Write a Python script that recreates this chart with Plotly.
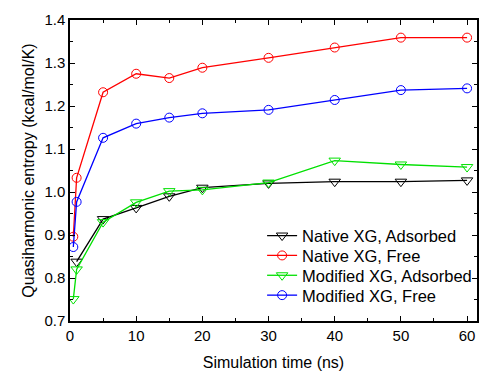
import plotly.graph_objects as go

time_native_ads = [1, 5, 10, 15, 20, 30, 40, 50, 60]
native_adsorbed = [0.838, 0.937, 0.963, 0.990, 1.010, 1.020, 1.024, 1.024, 1.027]

time_all = [0.5, 1, 5, 10, 15, 20, 30, 40, 50, 60]
native_free = [0.896, 1.033, 1.232, 1.275, 1.265, 1.289, 1.312, 1.336, 1.359, 1.359]
modified_adsorbed = [0.751, 0.820, 0.930, 0.976, 1.002, 1.005, 1.022, 1.073, 1.064, 1.058]
modified_free = [0.872, 0.977, 1.126, 1.159, 1.173, 1.183, 1.191, 1.214, 1.237, 1.241]

names = ["Native XG, Adsorbed", "Native XG, Free", "Modified XG, Adsorbed", "Modified XG, Free"]
colors = ["#000000", "#FF0000", "#00E000", "#0000FF"]
symbols = ["triangle-down-open", "circle-open", "triangle-down-open", "circle-open"]
xs = [time_native_ads, time_all, time_all, time_all]
ys = [native_adsorbed, native_free, modified_adsorbed, modified_free]
legend_ids = ["legend", "legend2", "legend3", "legend4"]

fig = go.Figure()
for x, y, n, c, s, lg in zip(xs, ys, names, colors, symbols, legend_ids):
    fig.add_trace(go.Scatter(
        x=x, y=y, name=n, mode="lines+markers", legend=lg,
        line=dict(color=c, width=1.3),
        marker=dict(symbol=s, size=10 if "triangle" in s else 9, color=c, line=dict(width=1, color=c)),
    ))

font = "Liberation Sans, Arial, sans-serif"
leg_common = dict(xanchor="left", yanchor="middle", bgcolor="rgba(0,0,0,0)",
                  font=dict(size=16.5), itemwidth=30)
row_y = [0.283, 0.217, 0.151, 0.085]
fig.update_layout(
    width=483, height=373,
    margin=dict(l=70, r=4, t=20, b=49),
    paper_bgcolor="white", plot_bgcolor="white",
    font=dict(family=font, size=15, color="black"),
    showlegend=True,
    legend=dict(x=0.472, y=row_y[0], **leg_common),
    legend2=dict(x=0.472, y=row_y[1], **leg_common),
    legend3=dict(x=0.472, y=row_y[2], **leg_common),
    legend4=dict(x=0.472, y=row_y[3], **leg_common),
    xaxis=dict(
        range=[0, 61.5], tickmode="array", tickvals=[0, 10, 20, 30, 40, 50, 60],
        ticks="inside", ticklen=5, tickwidth=1.3, tickcolor="black",
        minor=dict(tickvals=[5, 15, 25, 35, 45, 55], ticks="inside", ticklen=3, tickcolor="black", tickwidth=1.3),
        showline=True, linecolor="black", linewidth=1.5, mirror="allticks",
        showgrid=False, zeroline=False,
        title=dict(text="Simulation time (ns)", standoff=14, font=dict(size=16)),
    ),
    yaxis=dict(
        range=[0.7, 1.4], tickmode="array",
        tickvals=[0.7, 0.8, 0.9, 1.0, 1.1, 1.2, 1.3, 1.4],
        ticktext=["0.7", "0.8", "0.9", "1.0", "1.1", "1.2", "1.3", "1.4"],
        ticks="inside", ticklen=5, tickwidth=1.3, tickcolor="black",
        minor=dict(tickvals=[0.75, 0.85, 0.95, 1.05, 1.15, 1.25, 1.35], ticks="inside", ticklen=3, tickcolor="black", tickwidth=1.3),
        showline=True, linecolor="black", linewidth=1.5, mirror="allticks",
        showgrid=False, zeroline=False,
        title=dict(text="Quasiharmonic entropy (kcal/mol/K)", standoff=6, font=dict(size=16)),
    ),
)
fig.write_html("out.html", config={"displayModeBar": False},
               post_script="document.body.style.margin='0';document.body.style.overflow='hidden';")
